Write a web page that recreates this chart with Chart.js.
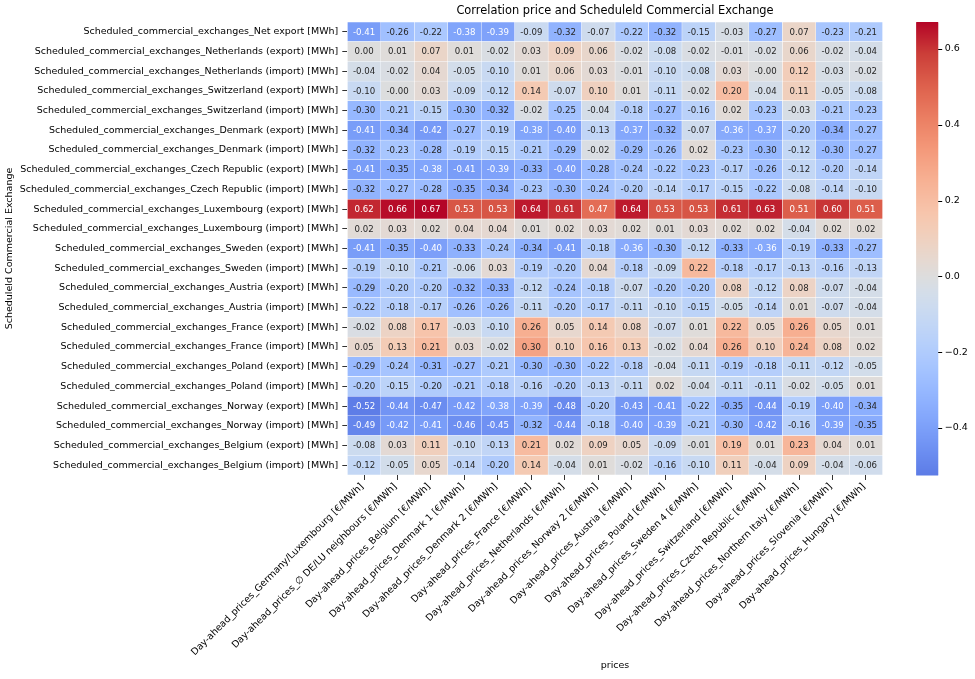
<!DOCTYPE html>
<html><head><meta charset="utf-8">
<script src="https://cdn.jsdelivr.net/npm/chart.js@4.4.1/dist/chart.umd.min.js"></script>
<style>html,body{margin:0;padding:0;background:#fff}#wrap{width:975px;height:679px;position:relative}</style>
</head><body><div id="wrap"><canvas id="c"></canvas></div>
<script>
const chartTitle = 'Correlation price and Scheduleld Commercial Exchange';
const xTitle = 'prices';
const yTitle = 'Scheduleld Commercial Exchange';

const priceColumns = [
  'Day-ahead_prices_Germany/Luxembourg [€/MWh]',
  'Day-ahead_prices_∅ DE/LU neighbours [€/MWh]',
  'Day-ahead_prices_Belgium [€/MWh]',
  'Day-ahead_prices_Denmark 1 [€/MWh]',
  'Day-ahead_prices_Denmark 2 [€/MWh]',
  'Day-ahead_prices_France [€/MWh]',
  'Day-ahead_prices_Netherlands [€/MWh]',
  'Day-ahead_prices_Norway 2 [€/MWh]',
  'Day-ahead_prices_Austria [€/MWh]',
  'Day-ahead_prices_Poland [€/MWh]',
  'Day-ahead_prices_Sweden 4 [€/MWh]',
  'Day-ahead_prices_Switzerland [€/MWh]',
  'Day-ahead_prices_Czech Republic [€/MWh]',
  'Day-ahead_prices_Northern Italy [€/MWh]',
  'Day-ahead_prices_Slovenia [€/MWh]',
  'Day-ahead_prices_Hungary [€/MWh]'
];

const exchangeRows = [
  'Scheduled_commercial_exchanges_Net export [MWh]',
  'Scheduled_commercial_exchanges_Netherlands (export) [MWh]',
  'Scheduled_commercial_exchanges_Netherlands (import) [MWh]',
  'Scheduled_commercial_exchanges_Switzerland (export) [MWh]',
  'Scheduled_commercial_exchanges_Switzerland (import) [MWh]',
  'Scheduled_commercial_exchanges_Denmark (export) [MWh]',
  'Scheduled_commercial_exchanges_Denmark (import) [MWh]',
  'Scheduled_commercial_exchanges_Czech Republic (export) [MWh]',
  'Scheduled_commercial_exchanges_Czech Republic (import) [MWh]',
  'Scheduled_commercial_exchanges_Luxembourg (export) [MWh]',
  'Scheduled_commercial_exchanges_Luxembourg (import) [MWh]',
  'Scheduled_commercial_exchanges_Sweden (export) [MWh]',
  'Scheduled_commercial_exchanges_Sweden (import) [MWh]',
  'Scheduled_commercial_exchanges_Austria (export) [MWh]',
  'Scheduled_commercial_exchanges_Austria (import) [MWh]',
  'Scheduled_commercial_exchanges_France (export) [MWh]',
  'Scheduled_commercial_exchanges_France (import) [MWh]',
  'Scheduled_commercial_exchanges_Poland (export) [MWh]',
  'Scheduled_commercial_exchanges_Poland (import) [MWh]',
  'Scheduled_commercial_exchanges_Norway (export) [MWh]',
  'Scheduled_commercial_exchanges_Norway (import) [MWh]',
  'Scheduled_commercial_exchanges_Belgium (export) [MWh]',
  'Scheduled_commercial_exchanges_Belgium (import) [MWh]'
];

// correlation values, one array per row (columns in priceColumns order)
const rNetExport          = [-0.41,-0.26,-0.22,-0.38,-0.39,-0.09,-0.32,-0.07,-0.22,-0.32,-0.15,-0.03,-0.27, 0.07,-0.23,-0.21];
const rNetherlandsExport  = [ 0.00, 0.01, 0.07, 0.01,-0.02, 0.03, 0.09, 0.06,-0.02,-0.08,-0.02,-0.01,-0.02, 0.06,-0.02,-0.04];
const rNetherlandsImport  = [-0.04,-0.02, 0.04,-0.05,-0.10, 0.01, 0.06, 0.03,-0.01,-0.10,-0.08, 0.03,-0.004,0.12,-0.03,-0.02];
const rSwitzerlandExport  = [-0.10,-0.004,0.03,-0.09,-0.12, 0.14,-0.07, 0.10, 0.01,-0.11,-0.02, 0.20,-0.04, 0.11,-0.05,-0.08];
const rSwitzerlandImport  = [-0.30,-0.21,-0.15,-0.30,-0.32,-0.02,-0.25,-0.04,-0.18,-0.27,-0.16, 0.02,-0.23,-0.03,-0.21,-0.23];
const rDenmarkExport      = [-0.41,-0.34,-0.42,-0.27,-0.19,-0.38,-0.40,-0.13,-0.37,-0.32,-0.07,-0.36,-0.37,-0.20,-0.34,-0.27];
const rDenmarkImport      = [-0.32,-0.23,-0.28,-0.19,-0.15,-0.21,-0.29,-0.02,-0.29,-0.26, 0.02,-0.23,-0.30,-0.12,-0.30,-0.27];
const rCzechExport        = [-0.41,-0.35,-0.38,-0.41,-0.39,-0.33,-0.40,-0.28,-0.24,-0.22,-0.23,-0.17,-0.26,-0.12,-0.20,-0.14];
const rCzechImport        = [-0.32,-0.27,-0.28,-0.35,-0.34,-0.23,-0.30,-0.24,-0.20,-0.14,-0.17,-0.15,-0.22,-0.08,-0.14,-0.10];
const rLuxembourgExport   = [ 0.62, 0.66, 0.67, 0.53, 0.53, 0.64, 0.61, 0.47, 0.64, 0.53, 0.53, 0.61, 0.63, 0.51, 0.60, 0.51];
const rLuxembourgImport   = [ 0.02, 0.03, 0.02, 0.04, 0.04, 0.01, 0.02, 0.03, 0.02, 0.01, 0.03, 0.02, 0.02,-0.04, 0.02, 0.02];
const rSwedenExport       = [-0.41,-0.35,-0.40,-0.33,-0.24,-0.34,-0.41,-0.18,-0.36,-0.30,-0.12,-0.33,-0.36,-0.19,-0.33,-0.27];
const rSwedenImport       = [-0.19,-0.10,-0.21,-0.06, 0.03,-0.19,-0.20, 0.04,-0.18,-0.09, 0.22,-0.18,-0.17,-0.13,-0.16,-0.13];
const rAustriaExport      = [-0.29,-0.20,-0.20,-0.32,-0.33,-0.12,-0.24,-0.18,-0.07,-0.20,-0.20, 0.08,-0.12, 0.08,-0.07,-0.04];
const rAustriaImport      = [-0.22,-0.18,-0.17,-0.26,-0.26,-0.11,-0.20,-0.17,-0.11,-0.10,-0.15,-0.05,-0.14, 0.01,-0.07,-0.04];
const rFranceExport       = [-0.02, 0.08, 0.17,-0.03,-0.10, 0.26, 0.05, 0.14, 0.08,-0.07, 0.01, 0.22, 0.05, 0.26, 0.05, 0.01];
const rFranceImport       = [ 0.05, 0.13, 0.21, 0.03,-0.02, 0.30, 0.10, 0.16, 0.13,-0.02, 0.04, 0.26, 0.10, 0.24, 0.08, 0.02];
const rPolandExport       = [-0.29,-0.24,-0.31,-0.27,-0.21,-0.30,-0.30,-0.22,-0.18,-0.04,-0.11,-0.19,-0.18,-0.11,-0.12,-0.05];
const rPolandImport       = [-0.20,-0.15,-0.20,-0.21,-0.18,-0.16,-0.20,-0.13,-0.11, 0.02,-0.04,-0.11,-0.11,-0.02,-0.05, 0.01];
const rNorwayExport       = [-0.52,-0.44,-0.47,-0.42,-0.38,-0.39,-0.48,-0.20,-0.43,-0.41,-0.22,-0.35,-0.44,-0.19,-0.40,-0.34];
const rNorwayImport       = [-0.49,-0.42,-0.41,-0.46,-0.45,-0.32,-0.44,-0.18,-0.40,-0.39,-0.21,-0.30,-0.42,-0.16,-0.39,-0.35];
const rBelgiumExport      = [-0.08, 0.03, 0.11,-0.10,-0.13, 0.21, 0.02, 0.09, 0.05,-0.09,-0.01, 0.19, 0.01, 0.23, 0.04, 0.01];
const rBelgiumImport      = [-0.12,-0.05, 0.05,-0.14,-0.20, 0.14,-0.04, 0.01,-0.02,-0.16,-0.10, 0.11,-0.04, 0.09,-0.04,-0.06];

const colorbarTicks = [-0.4, -0.2, 0.0, 0.2, 0.4, 0.6];
const colorMin = -0.524;
const colorMax = 0.671;

const matrix = [rNetExport, rNetherlandsExport, rNetherlandsImport, rSwitzerlandExport, rSwitzerlandImport,
  rDenmarkExport, rDenmarkImport, rCzechExport, rCzechImport, rLuxembourgExport, rLuxembourgImport,
  rSwedenExport, rSwedenImport, rAustriaExport, rAustriaImport, rFranceExport, rFranceImport,
  rPolandExport, rPolandImport, rNorwayExport, rNorwayImport, rBelgiumExport, rBelgiumImport];

// coolwarm colormap (matplotlib), centered at 0
const CW = [
 [0.0,0.2298,0.2987,0.7537],[0.03125,0.2662,0.3531,0.8015],[0.0625,0.3039,0.4065,0.8450],
 [0.09375,0.3428,0.4588,0.8837],[0.125,0.3830,0.5094,0.9174],[0.15625,0.4244,0.5578,0.9456],
 [0.1875,0.4667,0.6046,0.9682],[0.21875,0.5096,0.6480,0.9847],[0.25,0.5530,0.6889,0.9954],
 [0.28125,0.5963,0.7266,1.0],[0.3125,0.6391,0.7607,0.9994],[0.34375,0.6810,0.7910,0.9927],
 [0.375,0.7217,0.8174,0.9805],[0.40625,0.7606,0.8394,0.9626],[0.4375,0.7972,0.8571,0.9400],
 [0.46875,0.8312,0.8682,0.9134],[0.5,0.8654,0.8654,0.8654],[0.53125,0.8988,0.8479,0.8180],
 [0.5625,0.9283,0.8271,0.7683],[0.59375,0.9514,0.8022,0.7182],[0.625,0.9680,0.7721,0.6744],
 [0.6875,0.9685,0.6942,0.5791],[0.75,0.9566,0.5984,0.4774],[0.8125,0.9203,0.4931,0.3836],
 [0.875,0.8674,0.3787,0.3000],[0.9375,0.7969,0.2436,0.2218],[1.0,0.7057,0.0156,0.1502]
];
const vRange = Math.max(colorMax, -colorMin);
function rgbFor(v){
  let t = (v + vRange) / (2 * vRange);
  t = Math.max(0, Math.min(1, t));
  for (let k = 1; k < CW.length; k++) {
    if (t <= CW[k][0]) {
      const a = CW[k-1], b = CW[k], f = (t - a[0]) / (b[0] - a[0]);
      return [a[1]+(b[1]-a[1])*f, a[2]+(b[2]-a[2])*f, a[3]+(b[3]-a[3])*f];
    }
  }
  const l = CW[CW.length-1]; return [l[1],l[2],l[3]];
}
function cssFor(v){ const c = rgbFor(v); return `rgb(${Math.round(c[0]*255)},${Math.round(c[1]*255)},${Math.round(c[2]*255)})`; }
function textFor(v){
  const c = rgbFor(v).map(x => x <= 0.03928 ? x/12.92 : Math.pow((x+0.055)/1.055, 2.4));
  const lum = 0.2126*c[0] + 0.7152*c[1] + 0.0722*c[2];
  return lum > 0.408 ? '#262626' : '#ffffff';
}

const FONT = '"DejaVu Sans", "Liberation Sans", sans-serif';
Chart.defaults.font.family = FONT;
Chart.defaults.font.size = 9.5;
Chart.defaults.color = '#000';

const datasets = priceColumns.map((name, j) => ({
  label: name,
  data: exchangeRows.map(() => [j, j + 1]),
  corr: matrix.map(r => r[j]),
  backgroundColor: matrix.map(r => cssFor(r[j])),
  textColors: matrix.map(r => textFor(r[j])),
  borderColor: '#ffffff',
  borderWidth: 0.5,
  borderSkipped: false,
  barPercentage: 1,
  categoryPercentage: 1,
  grouped: false
}));

const heatPlugin = {
  id: 'heat',
  afterDatasetsDraw(chart) {
    const ctx = chart.ctx;
    ctx.save();
    ctx.font = '8.6px ' + FONT;
    ctx.textAlign = 'center';
    ctx.textBaseline = 'middle';
    chart.data.datasets.forEach((ds, j) => {
      const meta = chart.getDatasetMeta(j);
      meta.data.forEach((el, i) => {
        const p = el.getCenterPoint();
        ctx.fillStyle = ds.textColors[i];
        ctx.fillText(ds.corr[i].toFixed(2), p.x, p.y + 0.5);
      });
    });
    ctx.restore();
  },
  afterDraw(chart) {
    const ctx = chart.ctx, ca = chart.chartArea, cb = chart.scales.cb;
    ctx.save();
    ctx.font = '11.4px ' + FONT;
    ctx.fillStyle = '#000';
    ctx.textAlign = 'center';
    ctx.textBaseline = 'middle';
    ctx.fillText(chartTitle, (ca.left + ca.right) / 2, ca.top - 11);
    const x0 = ca.right + 33.5, x1 = ca.right + 55.5;
    for (let y = cb.top; y < cb.bottom; y += 1) {
      const h = Math.min(1, cb.bottom - y);
      ctx.fillStyle = cssFor(cb.getValueForPixel(y + h / 2));
      ctx.fillRect(x0, y, x1 - x0, h + 0.5);
    }
    ctx.strokeStyle = '#000';
    ctx.lineWidth = 1;
    colorbarTicks.forEach(t => {
      const y = Math.round(cb.getPixelForValue(t)) + 0.5;
      ctx.beginPath(); ctx.moveTo(x1, y); ctx.lineTo(x1 + 4, y); ctx.stroke();
    });
    ctx.restore();
  }
};

new Chart(document.getElementById('c'), {
  type: 'bar',
  data: { labels: exchangeRows, datasets },
  plugins: [heatPlugin],
  options: {
    indexAxis: 'y',
    responsive: true,
    maintainAspectRatio: false,
    animation: false,
    layout: { padding: { top: 22, left: 0, right: 0, bottom: 0 } },
    plugins: { legend: { display: false }, tooltip: { enabled: false }, title: { display: false } },
    scales: {
      x: {
        type: 'linear', position: 'bottom', min: 0, max: priceColumns.length, bounds: 'data', offset: false,
        afterBuildTicks: s => { s.ticks = priceColumns.map((_, j) => ({ value: j + 0.5 })); s.min = 0; s.max = priceColumns.length; },
        afterFit: s => { s.height = 204; s.paddingLeft = 0; s.paddingRight = 0; s.paddingTop = 0; s.paddingBottom = 0; },
        ticks: { autoSkip: false, minRotation: 45, maxRotation: 45, padding: 1, labelOffset: -2, color: '#000',
                 font: { size: 9.5 }, callback: (v, i) => priceColumns[i] },
        grid: { drawOnChartArea: false, drawTicks: true, tickLength: 5, color: '#333', tickColor: '#333' },
        border: { display: false },
        title: { display: true, text: xTitle, font: { size: 9.5 }, color: '#000', padding: { top: 4, bottom: 8 } }
      },
      y: {
        type: 'category', position: 'left', offset: true,
        afterFit: s => { s.width = 347.3; s.paddingTop = 0; s.paddingBottom = 0; },
        ticks: { autoSkip: false, padding: 4, color: '#000', font: { size: 9.5 } },
        grid: { drawOnChartArea: false, offset: false, drawTicks: true, tickLength: 5, color: '#333', tickColor: '#333' },
        border: { display: false },
        title: { display: true, text: yTitle, font: { size: 9.5 }, color: '#000', padding: { top: 4, bottom: 2 } }
      },
      cb: {
        type: 'linear', axis: 'y', position: 'right', min: colorMin, max: colorMax, bounds: 'data',
        offset: false, beginAtZero: false,
        afterBuildTicks: s => { s.ticks = colorbarTicks.map(v => ({ value: v })); s.min = colorMin; s.max = colorMax; },
        afterFit: s => { s.width = 975 - 882.7; s.paddingTop = 0; s.paddingBottom = 0; },
        ticks: { padding: 62, color: '#000', font: { size: 9.5 },
                 callback: v => (v < -1e-9 ? '\u2212' : '') + Math.abs(v).toFixed(1) },
        grid: { display: false, drawTicks: false, drawOnChartArea: false, offset: false },
        border: { display: false }
      }
    }
  }
});
</script>
</body></html>
